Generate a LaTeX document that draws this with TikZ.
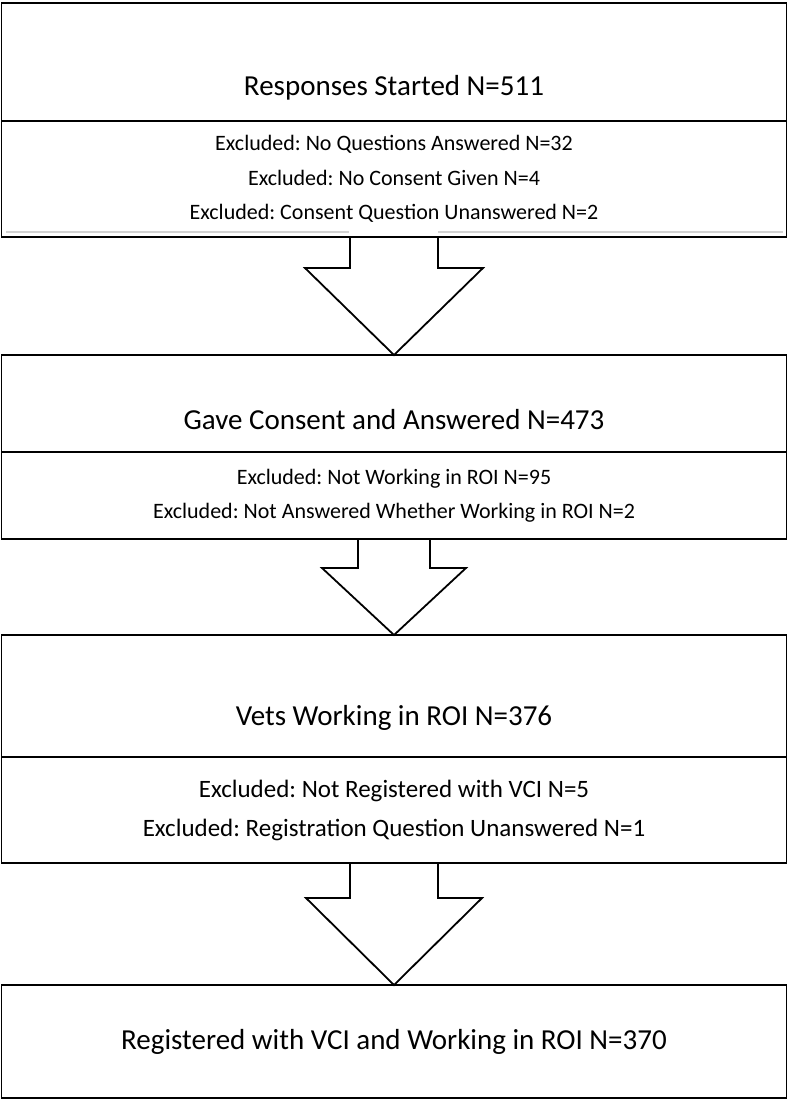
\documentclass[tikz,border=0pt]{standalone}
\usepackage{fontspec}
\setmainfont{Carlito}
\frenchspacing
\usetikzlibrary{positioning,calc}

\begin{document}
\begin{tikzpicture}[x=1pt, y=-1pt,
    boxpart/.style={rectangle, draw=black, line width=1.8pt, minimum width=785pt, outer sep=0pt, inner sep=0pt, align=center},
    maintxt/.style={font=\fontsize{29}{35}\selectfont, inner sep=0pt},
    excltxt/.style={font=\fontsize{22}{34.5}\selectfont},
    exclbig/.style={font=\fontsize{25}{39}\selectfont},
    blockarrow/.style={draw=black, line width=1.8pt, line join=miter}]
    \useasboundingbox (0,0) rectangle (789,1101);

    % Stage 1: all responses
    \node[boxpart, minimum height=118pt] (started) at (394,62) {};
    \node[maintxt] (startedtxt) at (394,88) {Responses Started N=511};
    \node[boxpart, excltxt, minimum height=116pt, below=0pt of started] (excl1)
        {Excluded: No Questions Answered N=32\\Excluded: No Consent Given N=4\\Excluded: Consent Question Unanswered N=2};

    % Stage 2: consent given
    \node[boxpart, minimum height=97pt] (consent) at (394,403.5) {};
    \node[maintxt] (consenttxt) at (394,420) {Gave Consent and Answered N=473};
    \node[boxpart, excltxt, minimum height=87pt, below=0pt of consent] (excl2)
        {Excluded: Not Working in ROI N=95\\Excluded: Not Answered Whether Working in ROI N=2};

    % Stage 3: working in ROI
    \node[boxpart, minimum height=122pt] (working) at (394,696) {};
    \node[maintxt] (workingtxt) at (394,718) {Vets Working in ROI N=376};
    \node[boxpart, exclbig, minimum height=106pt, below=0pt of working] (excl3)
        {Excluded: Not Registered with VCI N=5\\Excluded: Registration Question Unanswered N=1};

    % Stage 4: final sample
    \node[boxpart, maintxt, minimum height=113pt, minimum width=785pt] (final) at (394,1041.5)
        {Registered with VCI and Working in ROI N=370};

    % faint shadow line under the first box
    \draw[gray!35, line width=1.5pt] ($(excl1.south west)+(4,-5)$) -- ($(excl1.south)+(-45,-5)$);
    \draw[gray!35, line width=1.5pt] ($(excl1.south)+(44,-5)$) -- ($(excl1.south east)+(-4,-5)$);

    % block arrows
    \draw[blockarrow] ($(excl1.south)+(-44,0)$) -- ++(0,31) -- ++(-45,0) -- (consent.north)
        -- ($(excl1.south)+(89,31)$) -- ++(-45,0) -- ++(0,-31);
    \draw[blockarrow] ($(excl2.south)+(-36,0)$) -- ++(0,29) -- ++(-36,0) -- (working.north)
        -- ($(excl2.south)+(72,29)$) -- ++(-36,0) -- ++(0,-29);
    \draw[blockarrow] ($(excl3.south)+(-44,0)$) -- ++(0,35) -- ++(-44,0) -- (final.north)
        -- ($(excl3.south)+(88,35)$) -- ++(-44,0) -- ++(0,-35);
\end{tikzpicture}
\end{document}
